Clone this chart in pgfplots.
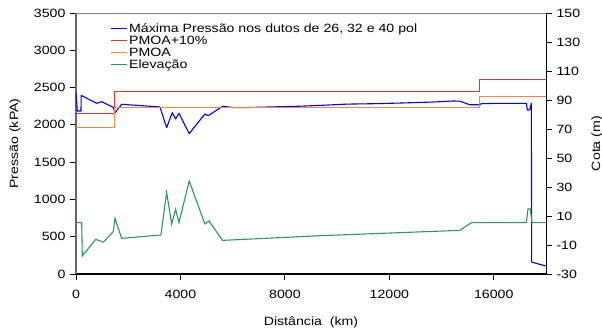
\documentclass[border=0pt]{standalone}
\usepackage{fontspec}
\setmainfont{Liberation Sans}[FakeStretch=1.18]
\usepackage{pgfplots}
\pgfplotsset{compat=1.18}
\definecolor{cblue}{RGB}{0,0,255}
\definecolor{cred}{RGB}{240,45,45}
\definecolor{corange}{RGB}{255,135,60}
\definecolor{cgreen}{RGB}{45,150,90}
\newcommand{\fs}{\fontsize{12bp}{13bp}\selectfont}
\begin{document}
\begin{tikzpicture}
\begin{axis}[
  scale only axis, width=470bp, height=261bp,
  xmin=0, xmax=18000, ymin=0, ymax=3500,
  axis x line*=bottom, axis y line*=left,
  x axis line style={-,black,line width=1.2bp},
  y axis line style={-,black!60,line width=1.8bp},
  xtick={0,4000,8000,12000,16000}, ytick={0,500,...,3500},
  scaled x ticks=false, scaled y ticks=false,
  tick align=outside, major tick length=6bp,
  tick style={black,line width=0.8bp},
  /pgf/number format/assume math mode=true,
  /pgf/number format/1000 sep={},
  ticklabel style={font=\fs},
  xticklabel style={yshift=-7bp},
  yticklabel style={xshift=-1bp},
  label style={font=\fs},
  ylabel={Pressão (kPA)}, xlabel={Distância\ \ (km)},
  xlabel style={at={(rel axis cs:0.5,-0.184)}, anchor=center},
  ylabel style={at={(rel axis cs:-0.13,0.5)}, anchor=center},
  legend style={at={(rel axis cs:0.072,0.968)}, anchor=north west, draw=none, fill=none,
    font=\fs, inner sep=0pt, row sep=-2bp, cells={anchor=west}},
  legend image code/.code={\draw[#1, line width=1.1bp] (0bp,0bp) -- (16bp,0bp);},
  every axis plot/.append style={line width=1.1bp},
]
\addplot[cblue, line join=round] coordinates {
(0,2430)(50,2186)(191,2186)(200,2395)(792,2289)(984,2311)(1427,2235)(1493,2163)
(1749,2276)(3215,2240)(3471,1962)(3685,2163)(3815,2079)(3942,2155)(4336,1882)
(4937,2146)(5063,2123)(5614,2249)(6020,2232)(6533,2232)(8573,2250)(9415,2262)
(10360,2278)(11443,2284)(12465,2293)(13663,2306)(14428,2320)(14696,2318)
(15078,2270)(15461,2270)(15526,2284)(16226,2289)(17248,2289)(17286,2199)
(17374,2199)(17439,2290)(17451,160)(17990,107)};
\addlegendentry{Máxima Pressão nos dutos de 26, 32 e 40 pol}
\addplot[cred] coordinates {
(0,2156)(1466,2156)(1466,2453)(15460,2453)(15460,2612)(17990,2612)};
\addlegendentry{PMOA+10\%}
\addplot[corange] coordinates {
(0,1960)(1466,1960)(1466,2230)(15460,2230)(15460,2375)(17990,2375)};
\addlegendentry{PMOA}
\addlegendimage{cgreen}
\addlegendentry{Elevação}
\coordinate (bl) at (rel axis cs:0,0);
\coordinate (tr) at (rel axis cs:1,1);
\end{axis}
\begin{axis}[
  scale only axis, width=470bp, height=261bp,
  xmin=0, xmax=18000, ymin=-30, ymax=150,
  axis x line*=top, axis y line*=right,
  x axis line style={-,black!50,line width=0.6bp},
  y axis line style={-,black,line width=1bp},
  xtick=\empty, ytick={-30,-10,...,150},
  tick align=outside, major tick length=6bp,
  tick style={black,line width=0.8bp},
  /pgf/number format/assume math mode=true,
  ticklabel style={font=\fs},
  yticklabel style={xshift=1bp},
  label style={font=\fs},
  ylabel={Cota (m)},
  ylabel style={at={(rel axis cs:1.1085,0.5)}, anchor=center},
]
\addplot[cgreen, line width=1.1bp] coordinates {
(0,5.4)(218,5.4)(241,-17.6)(754,-6.1)(1045,-8)(1427,-0.8)(1493,8.4)(1749,-5.4)
(3253,-3.1)(3471,26.3)(3662,4.5)(3815,14.6)(3942,5.4)(4336,34.1)(4937,4.5)
(5090,6.6)(5614,-6.8)(9338,-3.6)(14696,0.1)(15144,5.4)(17248,5.4)(17310,14.8)
(17401,14.8)(17462,5.4)(17990,5.4)};
\end{axis}
\pgfresetboundingbox
\path ([shift={(-76bp,-56bp)}]bl) rectangle ([shift={(56bp,13bp)}]tr);
\end{tikzpicture}
\end{document}
